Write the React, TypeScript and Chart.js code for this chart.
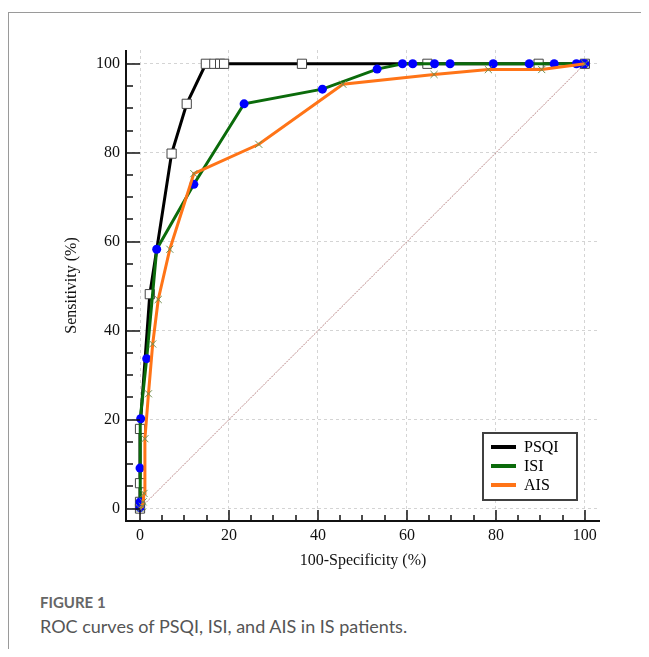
import React, { useEffect, useRef } from "react";
import { Chart, registerables } from "chart.js";

Chart.register(...registerables);

// ---- data ----
const tickValues = [0, 20, 40, 60, 80, 100];
const minorTickValues = [0, 5, 10, 15, 20, 25, 30, 35, 40, 45, 50, 55, 60, 65, 70, 75, 80, 85, 90, 95, 100];

const seriesNames = ["PSQI", "ISI", "AIS"];

const psqiX = [0, 0, 0, 0, 2.2, 7.1, 10.5, 14.8, 16.7, 18.0, 18.9, 36.4, 64.6, 89.6, 100];
const psqiY = [0, 1.5, 5.7, 17.9, 48.2, 79.8, 91.0, 100, 100, 100, 100, 100, 100, 100, 100];

const isiX = [0, 0, 0, 0.15, 1.5, 3.75, 12.1, 23.4, 41.0, 53.3, 59.0, 61.3, 66.2, 69.7, 79.4, 87.5, 93.1, 98.1, 99.5, 100];
const isiY = [0.2, 1.5, 9.1, 20.2, 33.7, 58.3, 72.9, 91.0, 94.3, 98.8, 100, 100, 100, 100, 100, 100, 100, 100, 100, 100];

const aisX = [0, 0.5, 0.7, 0.9, 1.1, 1.9, 2.85, 4.1, 6.7, 12.1, 26.7, 45.6, 66.1, 78.3, 90.3, 100];
const aisY = [0, 0.5, 1.5, 3.4, 15.7, 25.8, 37.0, 47.0, 58.3, 75.3, 81.9, 95.4, 97.6, 98.7, 98.7, 100];

const refX = [0, 100];
const refY = [0, 100];

const SERIF = '"Liberation Serif", "Times New Roman", serif';

const toPts = (xs: number[], ys: number[]) => xs.map((x, i) => ({ x, y: ys[i] }));

const colors = { PSQI: "#000000", ISI: "#0b6b0b", AIS: "#ff7417" };

const axisPlugin = {
  id: "axisPlugin",
  afterDraw(chart: any) {
    const { ctx, chartArea: a, scales } = chart;
    const xs = scales.x;
    const ys = scales.y;
    ctx.save();
    ctx.setLineDash([]);
    // tick marks (inside)
    ctx.strokeStyle = "#111";
    ctx.lineWidth = 1.5;
    minorTickValues.forEach((v) => {
      const major = tickValues.includes(v);
      const px = Math.round(xs.getPixelForValue(v));
      ctx.beginPath();
      ctx.moveTo(px, a.bottom);
      ctx.lineTo(px, a.bottom - (major ? 11 : 6));
      ctx.stroke();
      const py = Math.round(ys.getPixelForValue(v));
      ctx.beginPath();
      ctx.moveTo(a.left, py);
      ctx.lineTo(a.left + (major ? 14 : 7), py);
      ctx.stroke();
    });
    // axis lines
    ctx.lineWidth = 2;
    ctx.strokeStyle = "#111";
    ctx.beginPath();
    ctx.moveTo(a.left, a.top);
    ctx.lineTo(a.left, a.bottom);
    ctx.lineTo(a.right, a.bottom);
    ctx.stroke();

    // legend box
    const bw = 94;
    const bh = 67;
    const bx = a.right - 23 - bw;
    const by = a.bottom - 21 - bh;
    ctx.fillStyle = "#ffffff";
    ctx.fillRect(bx, by, bw, bh);
    ctx.strokeStyle = "#404040";
    ctx.lineWidth = 2;
    ctx.strokeRect(bx, by, bw, bh);
    const rows = [14, 33, 52];
    ctx.font = `16px ${SERIF}`;
    ctx.textBaseline = "middle";
    ctx.textAlign = "left";
    seriesNames.forEach((name, i) => {
      const ry = by + rows[i];
      ctx.strokeStyle = (colors as any)[name];
      ctx.lineWidth = 4;
      ctx.beginPath();
      ctx.moveTo(bx + 8, ry);
      ctx.lineTo(bx + 33, ry);
      ctx.stroke();
      ctx.fillStyle = "#000";
      ctx.fillText(name, bx + 41, ry + 1);
    });
    ctx.restore();
  },
};

export default function App() {
  const ref = useRef<HTMLCanvasElement | null>(null);

  useEffect(() => {
    if (!ref.current) return;
    const chart = new Chart(ref.current, {
      type: "scatter",
      data: {
        datasets: [
          {
            label: "ref",
            data: toPts(refX, refY),
            showLine: true,
            borderColor: "#b98686",
            borderWidth: 1,
            borderDash: [2, 1],
            pointRadius: 0,
            order: 4,
          },
          {
            label: "PSQI",
            data: toPts(psqiX, psqiY),
            showLine: true,
            borderColor: colors.PSQI,
            borderWidth: 3,
            pointStyle: "rect",
            pointRadius: 6.5,
            pointBackgroundColor: "#ffffff",
            pointBorderColor: "#444444",
            pointBorderWidth: 1,
            order: 3,
          },
          {
            label: "ISI",
            data: toPts(isiX, isiY),
            showLine: true,
            borderColor: colors.ISI,
            borderWidth: 3,
            pointStyle: "circle",
            pointRadius: 4.5,
            pointBackgroundColor: "#0000ff",
            pointBorderColor: "#0000ff",
            pointBorderWidth: 0,
            order: 2,
          },
          {
            label: "AIS",
            data: toPts(aisX, aisY),
            showLine: true,
            borderColor: colors.AIS,
            borderWidth: 3,
            pointStyle: "crossRot",
            pointRadius: 5,
            pointBorderColor: "#6f8f4f",
            pointBorderWidth: 1,
            order: 1,
          },
        ],
      },
      options: {
        animation: false,
        responsive: false,
        devicePixelRatio: 1,
        layout: { padding: { left: 0, right: 41, top: 42, bottom: 5 } },
        plugins: { legend: { display: false }, tooltip: { enabled: false } },
        elements: { line: { tension: 0 } },
        scales: {
          x: {
            type: "linear",
            min: -3.15,
            max: 103.4,
            afterBuildTicks: (s: any) => {
              s.ticks = tickValues.map((v) => ({ value: v }));
            },
            afterFit: (s: any) => {
              s.height = 62;
            },
            grid: { color: "#d4d4d4", lineWidth: 1, drawTicks: false },
            border: { display: false, dash: [3, 3] },
            ticks: {
              color: "#111",
              font: { family: SERIF, size: 16 },
              padding: 5,
              maxRotation: 0,
              autoSkip: false,
            },
            title: {
              display: true,
              text: "100-Specificity (%)",
              color: "#111",
              font: { family: SERIF, size: 16 },
              padding: { top: 0, bottom: 13 },
            },
          },
          y: {
            type: "linear",
            min: -2.8,
            max: 103.1,
            afterBuildTicks: (s: any) => {
              s.ticks = tickValues.map((v) => ({ value: v }));
            },
            afterFit: (s: any) => {
              s.width = 118;
            },
            grid: { color: "#d4d4d4", lineWidth: 1, drawTicks: false },
            border: { display: false, dash: [3, 3] },
            ticks: {
              color: "#111",
              font: { family: SERIF, size: 16 },
              padding: 6,
              autoSkip: false,
            },
            title: {
              display: true,
              text: "Sensitivity (%)",
              color: "#111",
              font: { family: SERIF, size: 16 },
              padding: { top: 54, bottom: 0 },
            },
          },
        },
      },
      plugins: [axisPlugin],
    });
    return () => chart.destroy();
  }, []);

  return (
    <div style={{ position: "relative", width: 633, height: 641, overflow: "hidden", background: "#fff" }}>
      <div
        style={{
          position: "absolute",
          left: 0,
          top: 4,
          width: 900,
          height: 900,
          borderLeft: "1px solid #9a9a9a",
          borderTop: "1px solid #9a9a9a",
        }}
      />
      <canvas ref={ref} width={633} height={580} style={{ position: "absolute", left: 0, top: 0 }} />
      <div
        style={{
          position: "absolute",
          left: 32,
          top: 584,
          fontFamily: 'Lato, "Open Sans", sans-serif',
          fontSize: 15,
          fontWeight: 700,
          color: "#666",
          lineHeight: "20px",
        }}
      >
        FIGURE 1
      </div>
      <div
        style={{
          position: "absolute",
          left: 32,
          top: 605,
          fontFamily: 'Lato, "Open Sans", sans-serif',
          fontSize: 18,
          color: "#555",
          lineHeight: "26px",
          whiteSpace: "nowrap",
        }}
      >
        ROC curves of PSQI, ISI, and AIS in IS patients.
      </div>
    </div>
  );
}
